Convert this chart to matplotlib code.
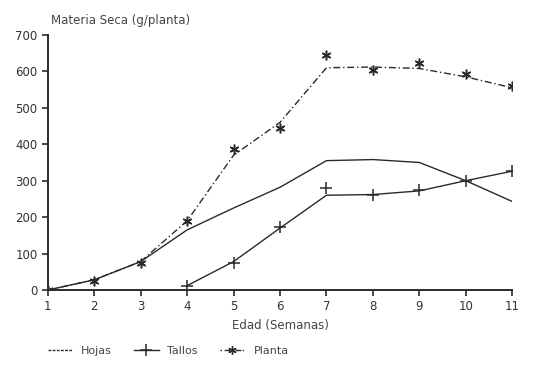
import matplotlib
matplotlib.use("Agg")
import matplotlib.pyplot as plt
from matplotlib.lines import Line2D

weeks = [1, 2, 3, 4, 5, 6, 7, 8, 9, 10, 11]

# fitted curves (read at each week)
hojas_curve = [0, 28, 78, 165, 225, 282, 355, 358, 350, 300, 243]
tallos_weeks = [4, 5, 6, 7, 8, 9, 10, 11]
tallos_curve = [12, 78, 170, 260, 262, 272, 300, 326]
planta_weeks = [1, 2, 3, 4, 5, 6, 7, 8, 9, 10, 11]
planta_curve = [0, 28, 78, 190, 370, 460, 610, 612, 608, 585, 555]

# observed points
tallos_obs = [12, 73, 172, 280, 261, 275, 300, 326]
planta_obs = [0, 25, 75, 190, 388, 445, 645, 605, 622, 592, 560]

yticks = [0, 100, 200, 300, 400, 500, 600, 700]

ink = "#2a2a2a"
fig = plt.figure(figsize=(5.38, 3.68), dpi=100)
ax = fig.add_axes([0.089, 0.212, 0.863, 0.693])

ax.plot(weeks, hojas_curve, color=ink, lw=1.0, label="Hojas")
ax.plot(tallos_weeks, tallos_curve, color=ink, lw=1.0)
ax.plot(tallos_weeks, tallos_obs, ls="none", marker="+", ms=8, mew=1.1, color=ink)
ax.plot(planta_weeks, planta_curve, color=ink, lw=1.0, ls=(0, (5, 2, 1, 2)))
ax.plot(planta_weeks, planta_obs, ls="none", marker=(6, 2, 0), ms=7, mew=1.1, color=ink)

handles = [
    Line2D([], [], color=ink, lw=1.0, ls=(0, (2, 1))),
    Line2D([], [], color=ink, lw=1.0, marker="+", ms=8, mew=1.1),
    Line2D([], [], color=ink, lw=1.0, ls=(0, (1, 2, 4, 1)), marker=(6, 2, 0), ms=6, mew=1.0),
]
fig.legend(handles, ["Hojas", "Tallos", "Planta"], loc="lower left",
           bbox_to_anchor=(0.07, 0.005), ncol=3, frameon=False, fontsize=8,
           handlelength=2.2, columnspacing=2.0, labelcolor="#444444")

ax.set_xlim(1, 11)
ax.set_ylim(0, 700)
ax.set_xticks(weeks)
ax.set_yticks(yticks)
ax.tick_params(colors=ink, labelsize=8.5, length=4, width=1.2, labelcolor="#333333")
for s in ["top", "right"]:
    ax.spines[s].set_visible(False)
for s in ["left", "bottom"]:
    ax.spines[s].set_color(ink)
    ax.spines[s].set_linewidth(1.4)

ax.set_xlabel("Edad (Semanas)", fontsize=8.5, color="#444444", labelpad=4)
fig.text(0.094, 0.943, "Materia Seca (g/planta)", fontsize=8.5, color="#444444",
         ha="left", va="center")

fig.savefig("out.png", dpi=100, facecolor="white")
